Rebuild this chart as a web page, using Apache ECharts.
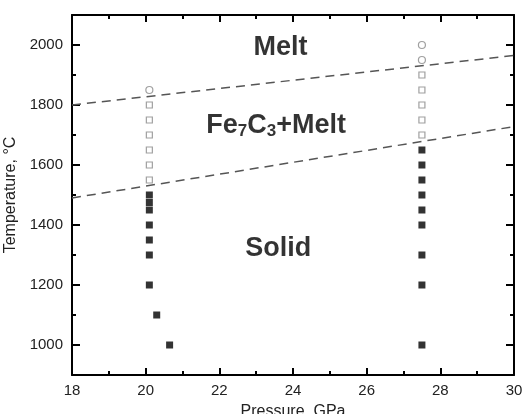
<!DOCTYPE html>
<html><head><meta charset="utf-8">
<script src="https://cdn.jsdelivr.net/npm/echarts@6/dist/echarts.min.js"></script>
<style>html,body{margin:0;padding:0;background:#fff}#c{width:524px;height:414px}</style>
</head><body><div id="c"></div>
<script>
// Solid (filled squares)
const solidP = [20.1,20.1,20.1,20.1,20.1,20.1,20.1,20.3,20.65, 27.5,27.5,27.5,27.5,27.5,27.5,27.5,27.5,27.5];
const solidT = [1500,1475,1450,1400,1350,1300,1200,1100,1000, 1650,1600,1550,1500,1450,1400,1300,1200,1000];
// Fe7C3 + melt (open squares)
const partP = [20.1,20.1,20.1,20.1,20.1,20.1, 27.5,27.5,27.5,27.5,27.5];
const partT = [1550,1600,1650,1700,1750,1800, 1700,1750,1800,1850,1900];
// Melt (open circles)
const meltP = [20.1, 27.5, 27.5];
const meltT = [1850, 1950, 2000];
// Boundary lines (dashed)
const liquidusP = [18, 30];
const liquidusT = [1800, 1965];
const solidusP = [18, 30];
const solidusT = [1490, 1728];
// Field labels
const fieldText = ['Melt', 'Fe{s|7}C{s|3}+Melt', 'Solid'];
const fieldP = [23.66, 23.54, 23.6];
const fieldT = [1993, 1730, 1320];
// Ticks
const yMajor = [1000, 1200, 1400, 1600, 1800, 2000];

const zip = (a, b) => a.map((v, i) => [v, b[i]]);
const font = 'Liberation Sans, Arial, sans-serif';
const chart = echarts.init(document.getElementById('c'));
const axLine = {show: true, lineStyle: {color: '#000', width: 2}};
const yBase = {type: 'value', min: 900, max: 2100, splitLine: {show: false}};
const xBase = {type: 'value', min: 18, max: 30, interval: 2, splitLine: {show: false}};
chart.setOption({
  animation: false,
  grid: {left: 72, right: 10, top: 15, bottom: 39, containLabel: false, outerBoundsMode: 'none'},
  xAxis: [
    Object.assign({}, xBase, {position: 'bottom', axisLine: axLine,
      axisTick: {inside: true, length: 7, lineStyle: {width: 2, color: '#000'}},
      minorTick: {show: true, splitNumber: 2, length: 4, lineStyle: {width: 2, color: '#000'}},
      axisLabel: {margin: 8, fontSize: 15, color: '#222', fontFamily: font},
      name: 'Pressure, GPa', nameLocation: 'middle', nameGap: 29,
      nameTextStyle: {fontSize: 16, color: '#222', fontFamily: font}}),
    Object.assign({}, xBase, {position: 'top', axisLine: axLine,
      axisTick: {inside: true, length: 7, lineStyle: {width: 2, color: '#000'}},
      minorTick: {show: true, splitNumber: 2, length: 4, lineStyle: {width: 2, color: '#000'}},
      axisLabel: {show: false}})
  ],
  yAxis: [
    Object.assign({}, yBase, {position: 'left', interval: 100, axisLine: axLine,
      axisTick: {inside: true, length: 4, lineStyle: {width: 2, color: '#000'}},
      axisLabel: {margin: 9, fontSize: 15, color: '#222', fontFamily: font,
        formatter: v => (yMajor.indexOf(v) >= 0 ? String(v) : '')},
      name: 'Temperature, °C', nameLocation: 'middle', nameGap: 41, nameRotate: 90,
      nameTextStyle: {fontSize: 16, color: '#222', fontFamily: font}}),
    Object.assign({}, yBase, {position: 'left', axisLine: {show: false},
      axisTick: {inside: true, length: 8, customValues: yMajor, lineStyle: {width: 2, color: '#000'}},
      axisLabel: {show: false}}),
    Object.assign({}, yBase, {position: 'right', interval: 100, axisLine: axLine,
      axisTick: {inside: true, length: 4, lineStyle: {width: 2, color: '#000'}},
      axisLabel: {show: false}}),
    Object.assign({}, yBase, {position: 'right', axisLine: {show: false},
      axisTick: {inside: true, length: 8, customValues: yMajor, lineStyle: {width: 2, color: '#000'}},
      axisLabel: {show: false}})
  ],
  series: [
    {type: 'line', data: zip(liquidusP, liquidusT), symbol: 'none',
      lineStyle: {color: '#555', width: 1.5, type: [9, 6]}},
    {type: 'line', data: zip(solidusP, solidusT), symbol: 'none',
      lineStyle: {color: '#555', width: 1.5, type: [9, 6]}},
    {type: 'scatter', data: zip(solidP, solidT), symbol: 'rect', symbolSize: 7,
      itemStyle: {color: '#000'}},
    {type: 'scatter', data: zip(partP, partT), symbol: 'rect', symbolSize: 6,
      itemStyle: {color: '#fff', borderColor: '#888', borderWidth: 1.2}},
    {type: 'scatter', data: zip(meltP, meltT), symbol: 'circle', symbolSize: 7,
      itemStyle: {color: '#fff', borderColor: '#888', borderWidth: 1.2}},
    {type: 'scatter', symbolSize: 0, silent: true,
      data: fieldText.map((t, i) => ({value: [fieldP[i], fieldT[i]], name: t})),
      label: {show: true, position: 'inside', formatter: p => p.name,
        fontFamily: font, fontSize: 27, fontWeight: 'bold', color: '#000',
        rich: {s: {fontFamily: font, fontSize: 17, fontWeight: 'bold', color: '#000', padding: [11, 0, 0, 0]}}}}
  ]
});
</script></body></html>
